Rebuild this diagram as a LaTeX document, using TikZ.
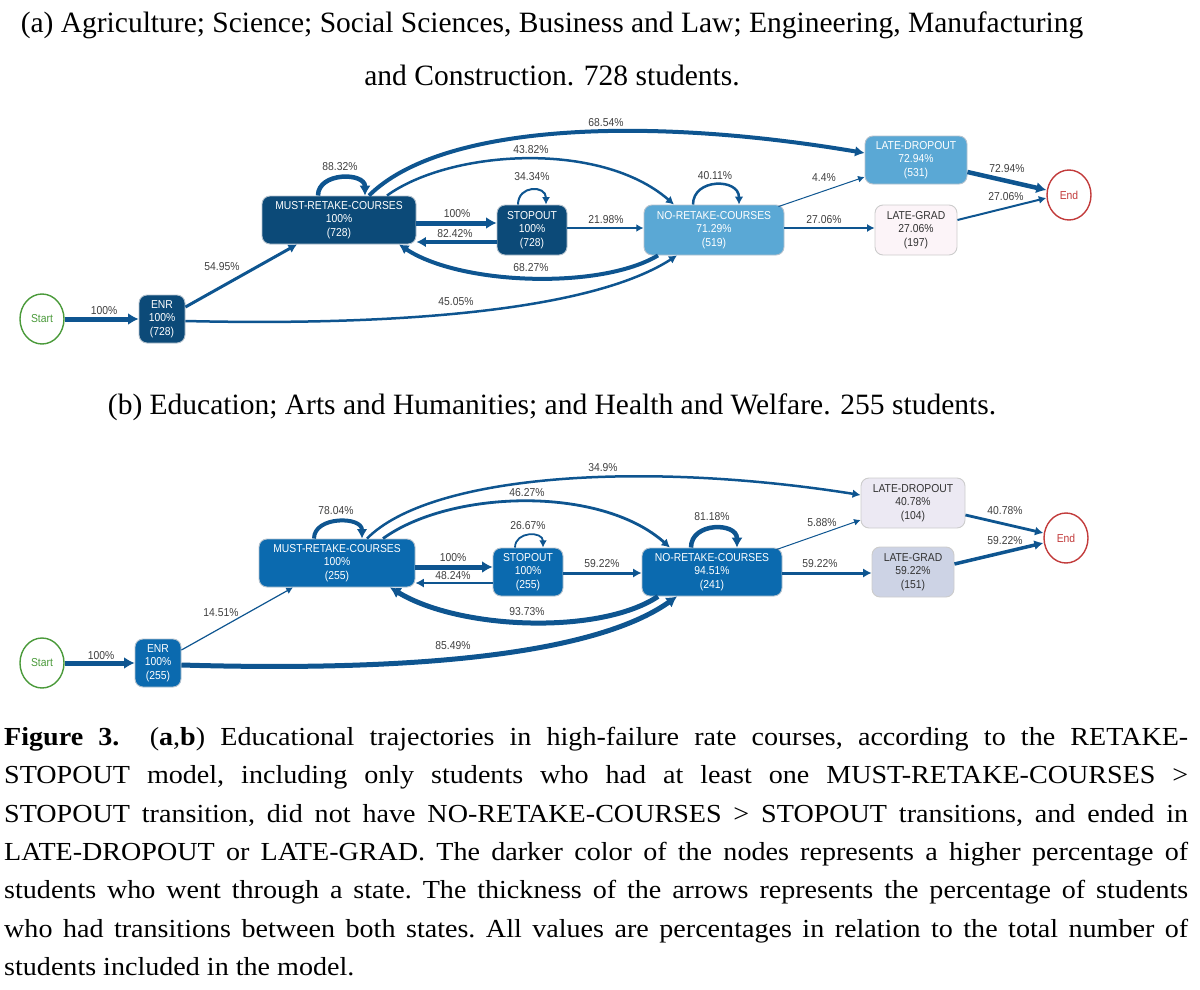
\documentclass[tikz,border=0pt]{standalone}
\usepackage{fontspec}
\setmainfont{Liberation Serif}
\newfontfamily\capfont[FakeStretch=1.08]{Liberation Serif}
\newfontfamily\dfont[FakeStretch=0.9]{Liberation Sans}
\usetikzlibrary{arrows.meta,shapes.geometric}
\definecolor{edgec}{HTML}{0E5590}
\definecolor{darkA}{HTML}{0C4A78}
\definecolor{lightA}{HTML}{5AA8D5}
\definecolor{blueB}{HTML}{0B6AAF}
\definecolor{paleA}{HTML}{FCF4F8}
\definecolor{lavB}{HTML}{ECE9F3}
\definecolor{greyB}{HTML}{CDD3E5}
\definecolor{boxline}{HTML}{B4C2CE}
\definecolor{lblc}{HTML}{404040}
\definecolor{startc}{HTML}{4A9A3A}
\definecolor{endc}{HTML}{C23B3B}
\tikzset{
 nbox/.style={rectangle, rounded corners=8pt, draw=boxline, line width=0.9pt, inner sep=0pt, align=center, font=\dfont\fontsize{11.5}{13.5}\selectfont, text=white},
 term/.style={ellipse, line width=1.4pt, fill=white, minimum width=44pt, minimum height=50pt, inner sep=0pt, font=\dfont\fontsize{11.5}{13.5}\selectfont},
 startn/.style={term, draw=startc, text=startc},
 endn/.style={term, draw=endc, text=endc},
 lbl/.style={font=\dfont\fontsize{11.5}{13.5}\selectfont, text=lblc, inner sep=0pt},
 edg/.style={draw=edgec, line width=#1, -{Latex[length=5.5pt 1, width=5.5pt 1.3]}},
 ttl/.style={font=\fontsize{29.5}{34}\selectfont, inner sep=0pt},
}
\begin{document}
\begin{tikzpicture}[x=1pt,y=-1pt]
\useasboundingbox (0,0) rectangle (1200,990);

% ---------------- titles
\node[ttl] (ta1) at (552,25) {(a) Agriculture; Science; Social Sciences, Business and Law; Engineering, Manufacturing};
\node[ttl] (ta2) at (552,75) {and Construction. 728 students.};
\node[ttl] (tb) at (552,407) {(b) Education; Arts and Humanities; and Health and Welfare. 255 students.};

% ---------------- panel a nodes
\node[startn] (startA) at (42,319) {Start};
\node[nbox, fill=darkA, minimum width=46pt, minimum height=48pt] (enrA) at (162,319) {ENR\\100\%\\(728)};
\node[nbox, fill=darkA, minimum width=154pt, minimum height=48pt] (mrcA) at (339,220) {MUST-RETAKE-COURSES\\100\%\\(728)};
\node[nbox, fill=darkA, minimum width=70pt, minimum height=50pt] (stopA) at (532,230) {STOPOUT\\100\%\\(728)};
\node[nbox, fill=lightA, minimum width=140pt, minimum height=50pt] (nrcA) at (714,230) {NO-RETAKE-COURSES\\71.29\%\\(519)};
\node[nbox, fill=lightA, minimum width=102pt, minimum height=48pt] (ldA) at (916,160) {LATE-DROPOUT\\72.94\%\\(531)};
\node[nbox, fill=paleA, draw=black!20, text=black!80, minimum width=82pt, minimum height=50pt] (lgA) at (916,230) {LATE-GRAD\\27.06\%\\(197)};
\node[endn] (endA) at (1069,195) {End};

% ---------------- panel a edges
\draw[edg=5] (startA.east) -- (enrA.west);
\draw[edg=3] ([yshift=12pt]enrA.east) -- ([xshift=-42pt]mrcA.south);
\draw[edg=2.5] ([yshift=-2pt]enrA.east) .. controls (350,325) and (580,318) .. ([xshift=-37pt]nrcA.south);
\draw[edg=4.5] ([xshift=-21pt]mrcA.north) .. controls (318,172) and (365,172) .. ([xshift=26pt]mrcA.north);
\draw[edg=5] ([yshift=-3pt]mrcA.east) -- ([yshift=7pt]stopA.west);
\draw[edg=4] ([yshift=-12pt]stopA.west) -- ([yshift=-22pt]mrcA.east);
\draw[edg=2] ([xshift=-14pt]stopA.north) .. controls (518,185) and (546,185) .. ([xshift=14pt]stopA.north);
\draw[edg=1.8] ([yshift=2pt]stopA.east) -- ([yshift=2pt]nrcA.west);
\draw[edg=2.5] ([xshift=-21pt]nrcA.north) .. controls (693,178) and (739,178) .. ([xshift=25pt]nrcA.north);
\draw[edg=4] ([xshift=30pt]mrcA.north) .. controls (440,125) and (640,115) .. ([yshift=7pt]ldA.west);
\draw[edg=2.5] ([xshift=48pt]mrcA.north) .. controls (450,150) and (600,140) .. ([xshift=-40pt]nrcA.north);
\draw[edg=4] ([xshift=-56pt]nrcA.south) .. controls (600,290) and (460,285) .. ([xshift=60pt]mrcA.south);
\draw[edg=1] ([xshift=-6pt,yshift=-2pt]nrcA.north east) -- ([yshift=-17pt]ldA.west);
\draw[edg=2] ([yshift=2pt]nrcA.east) -- ([yshift=2pt]lgA.west);
\draw[edg=4.5] ([yshift=-12pt]ldA.east) -- ([yshift=5pt]endA.west);
\draw[edg=2] ([yshift=10pt]lgA.east) -- ([yshift=-3pt]endA.west);

% ---------------- panel a labels
\node[lbl] (la1) at (104,311) {100\%};
\node[lbl] (la2) at (222,267) {54.95\%};
\node[lbl] (la3) at (456,302) {45.05\%};
\node[lbl] (la4) at (340,167) {88.32\%};
\node[lbl] (la5) at (457,214) {100\%};
\node[lbl] (la6) at (455,234) {82.42\%};
\node[lbl] (la7) at (532,177) {34.34\%};
\node[lbl] (la8) at (531,150) {43.82\%};
\node[lbl] (la9) at (606,123) {68.54\%};
\node[lbl] (la10) at (531,268) {68.27\%};
\node[lbl] (la11) at (606,220) {21.98\%};
\node[lbl] (la12) at (715,176) {40.11\%};
\node[lbl] (la13) at (824,178) {4.4\%};
\node[lbl] (la14) at (824,220) {27.06\%};
\node[lbl] (la15) at (1007,169) {72.94\%};
\node[lbl] (la16) at (1006,197) {27.06\%};

% ---------------- panel b nodes
\node[startn] (startB) at (42,663) {Start};
\node[nbox, fill=blueB, minimum width=46pt, minimum height=48pt] (enrB) at (158,663) {ENR\\100\%\\(255)};
\node[nbox, fill=blueB, minimum width=156pt, minimum height=48pt] (mrcB) at (337,563) {MUST-RETAKE-COURSES\\100\%\\(255)};
\node[nbox, fill=blueB, minimum width=70pt, minimum height=48pt] (stopB) at (528,572) {STOPOUT\\100\%\\(255)};
\node[nbox, fill=blueB, minimum width=140pt, minimum height=48pt] (nrcB) at (712,572) {NO-RETAKE-COURSES\\94.51\%\\(241)};
\node[nbox, fill=lavB, draw=black!20, text=black!80, minimum width=104pt, minimum height=50pt] (ldB) at (913,503) {LATE-DROPOUT\\40.78\%\\(104)};
\node[nbox, fill=greyB, draw=black!20, text=black!80, minimum width=82pt, minimum height=50pt] (lgB) at (913,572) {LATE-GRAD\\59.22\%\\(151)};
\node[endn] (endB) at (1066,538) {End};

% ---------------- panel b edges
\draw[edg=5] (startB.east) -- (enrB.west);
\draw[edg=1.2] ([yshift=13pt]enrB.east) -- ([xshift=-44pt]mrcB.south);
\draw[edg=5] ([yshift=-2pt]enrB.east) .. controls (350,670) and (580,665) .. ([xshift=-35pt]nrcB.south);
\draw[edg=4] ([xshift=-23pt]mrcB.north) .. controls (314,516) and (362,516) .. ([xshift=25pt]mrcB.north);
\draw[edg=5] ([yshift=-4pt]mrcB.east) -- ([yshift=5pt]stopB.west);
\draw[edg=2.8] ([yshift=-11pt]stopB.west) -- ([yshift=-20pt]mrcB.east);
\draw[edg=1.8] ([xshift=-13pt]stopB.north) .. controls (515,531) and (543,531) .. ([xshift=15pt]stopB.north);
\draw[edg=3] ([yshift=-1pt]stopB.east) -- ([yshift=-1pt]nrcB.west);
\draw[edg=4.5] ([xshift=-21pt]nrcB.north) .. controls (691,522) and (737,522) .. ([xshift=25pt]nrcB.north);
\draw[edg=2.5] ([xshift=30pt]mrcB.north) .. controls (430,475) and (640,460) .. ([yshift=8pt]ldB.west);
\draw[edg=2.8] ([xshift=46pt]mrcB.north) .. controls (450,490) and (600,485) .. ([xshift=-42pt]nrcB.north);
\draw[edg=5] ([xshift=-54pt]nrcB.south) .. controls (600,635) and (460,630) .. ([xshift=53pt]mrcB.south);
\draw[edg=1] ([xshift=-6pt,yshift=-2pt]nrcB.north east) -- ([yshift=-17pt]ldB.west);
\draw[edg=3] ([yshift=-1pt]nrcB.east) -- ([yshift=-1pt]lgB.west);
\draw[edg=2.8] ([yshift=-12pt]ldB.east) -- ([yshift=5pt]endB.west);
\draw[edg=3.5] ([yshift=8pt]lgB.east) -- ([yshift=-5pt]endB.west);

% ---------------- panel b labels
\node[lbl] (lb1) at (101,656) {100\%};
\node[lbl] (lb2) at (221,613) {14.51\%};
\node[lbl] (lb3) at (453,646) {85.49\%};
\node[lbl] (lb4) at (336,511) {78.04\%};
\node[lbl] (lb5) at (527,493) {46.27\%};
\node[lbl] (lb6) at (603,468) {34.9\%};
\node[lbl] (lb7) at (528,526) {26.67\%};
\node[lbl] (lb8) at (453,558) {100\%};
\node[lbl] (lb9) at (453,576) {48.24\%};
\node[lbl] (lb10) at (602,564) {59.22\%};
\node[lbl] (lb11) at (527,612) {93.73\%};
\node[lbl] (lb12) at (712,517) {81.18\%};
\node[lbl] (lb13) at (822,523) {5.88\%};
\node[lbl] (lb14) at (820,564) {59.22\%};
\node[lbl] (lb15) at (1005,511) {40.78\%};
\node[lbl] (lb16) at (1005,541) {59.22\%};

% ---------------- caption
\node[anchor=north west, inner sep=0pt, text width=1184pt, align=justify, font=\capfont\fontsize{26}{38.3}\selectfont] (cap) at (4,727) {\frenchspacing\textbf{Figure 3.}\ \ (\textbf{a},\textbf{b}) Educational trajectories in high-failure rate courses, according to the RETAKE-\linebreak STOPOUT model, including only students who had at least one MUST-RETAKE-COURSES >\linebreak STOPOUT transition, did not have NO-RETAKE-COURSES > STOPOUT transitions, and ended in\linebreak LATE-DROPOUT or LATE-GRAD. The darker color of the nodes represents a higher percentage of\linebreak students who went through a state. The thickness of the arrows represents the percentage of students\linebreak who had transitions between both states. All values are percentages in relation to the total number of\linebreak students included in the model.};
\end{tikzpicture}
\end{document}
